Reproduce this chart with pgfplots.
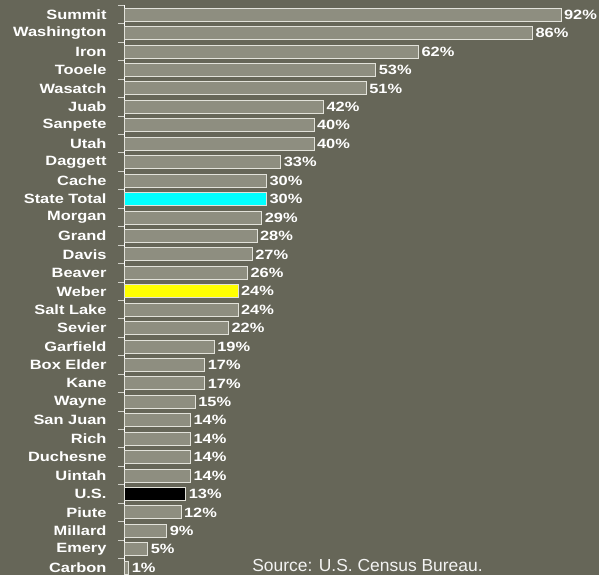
\documentclass[border=0pt]{standalone}
\usepackage{pgfplots}
\pgfplotsset{compat=1.18}
\usepackage{fontspec}
\setmainfont{Liberation Sans}
\newfontfamily\lbl{Liberation Sans}[FakeStretch=1.22]
\definecolor{bg}{HTML}{666658}
\definecolor{barfill}{HTML}{8E8E80}
\definecolor{baredge}{HTML}{E2E2DA}
\definecolor{tickc}{HTML}{D0D0C8}
\definecolor{cyanbar}{HTML}{00FFFF}
\definecolor{yellowbar}{HTML}{FFFF00}
\begin{document}
\begin{tikzpicture}[x=1bp,y=1bp]
\fill[bg] (0,0) rectangle (599,575);
\begin{axis}[
  at={(124bp,-2bp)}, anchor=south west,
  scale only axis, width=475bp, height=571.5bp,
  xmin=0, xmax=100, ymin=-0.5, ymax=30.5, y dir=reverse,
  axis x line=none, axis y line*=left,
  axis line style={white, line width=1bp},
  ytick={0,...,30},
  yticklabels={Summit,Washington,Iron,Tooele,Wasatch,Juab,Sanpete,Utah,Daggett,Cache,State Total,Morgan,Grand,Davis,Beaver,Weber,Salt Lake,Sevier,Garfield,Box Elder,Kane,Wayne,San Juan,Rich,Duchesne,Uintah,U.S.,Piute,Millard,Emery,Carbon},
  yticklabel style={font=\lbl\bfseries\fontsize{13.5}{15}\selectfont, color=white, xshift=-14bp},
  major tick length=0pt,
  minor ytick={-0.5,0.5,...,30.5},
  minor tick length=6bp,
  tick align=outside,
  minor tick style={tickc, line width=1bp},
  xbar, bar width=13bp, bar shift=0pt,
  /pgf/number format/assume math mode=true,
  nodes near coords={\pgfmathprintnumber{\pgfplotspointmeta}\%},
  nodes near coords align=horizontal,
  every node near coord/.append style={font=\lbl\bfseries\fontsize{13.5}{15}\selectfont, color=white, anchor=west, inner sep=2.5bp},
  point meta=x,
  clip=false,
]
\addplot[fill=barfill, draw=baredge, line width=1bp] coordinates {
(92,0) (86,1) (62,2) (53,3) (51,4) (42,5) (40,6) (40,7) (33,8) (30,9)
(29,11) (28,12) (27,13) (26,14) (24,16) (22,17) (19,18) (17,19) (17,20)
(15,21) (14,22) (14,23) (14,24) (14,25) (12,27) (9,28) (5,29) (1,30)
};
\addplot[fill=cyanbar, draw=baredge, line width=1bp] coordinates {(30,10)};
\addplot[fill=yellowbar, draw=baredge, line width=1bp] coordinates {(24,15)};
\addplot[fill=black, draw=baredge, line width=1bp] coordinates {(13,26)};
\end{axis}
\node[font=\fontsize{17.5}{20}\selectfont, text=white!92!bg, inner sep=0pt] at (367.5,10) {Source: U.S. Census Bureau.};
\pgfresetboundingbox
\path[use as bounding box] (0,0) rectangle (599,575);
\end{tikzpicture}
\end{document}
